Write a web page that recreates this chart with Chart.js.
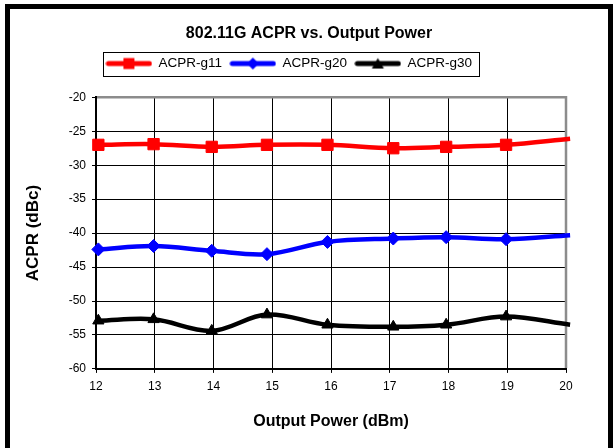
<!DOCTYPE html>
<html lang="en">
<head>
<meta charset="UTF-8">
<title>802.11G ACPR vs. Output Power</title>
<script src="https://cdn.jsdelivr.net/npm/chart.js"></script>
<style>
  body { margin: 0; background: #fff; }
  .wrap { position: relative; width: 613px; height: 448px; overflow: hidden; }
  .frame { position: absolute; left: 5px; top: 4px; width: 608px; height: 470px; border: 5px solid #000; box-sizing: border-box; }
  canvas { position: absolute; left: 0; top: 0; }
</style>
</head>
<body>
<div class="wrap">
  <div class="frame"></div>
  <canvas id="acpr" width="613" height="448"></canvas>
</div>
<script>
// measured output power (dBm) for each sample
const outputPower = [12.04, 12.98, 13.97, 14.91, 15.94, 17.06, 17.96, 18.98, 20.07];
const acprG11 = [-27.0, -26.9, -27.3, -27.0, -27.0, -27.5, -27.3, -27.0, -26.1];
const acprG20 = [-42.4, -41.9, -42.6, -43.1, -41.3, -40.8, -40.6, -40.9, -40.3];
const acprG30 = [-52.9, -52.7, -54.4, -52.0, -53.5, -53.8, -53.5, -52.3, -53.5];
const seriesNames = ['ACPR-g11', 'ACPR-g20', 'ACPR-g30'];
const xMin = 12, xMax = 20, xStep = 1;
const yMin = -60, yMax = -20, yStep = 5;

Chart.defaults.font.family = 'Arial, "Liberation Sans", sans-serif';
Chart.defaults.color = '#000';

// legend sample: thick line with the marker in the middle
function legendSample(color, style) {
  const c = document.createElement('canvas');
  c.width = 47; c.height = 14;
  const g = c.getContext('2d');
  g.strokeStyle = color; g.lineWidth = 5; g.lineCap = 'round';
  g.beginPath(); g.moveTo(3, 7); g.lineTo(44, 7); g.stroke();
  g.fillStyle = color;
  g.beginPath();
  if (style === 'rect') g.rect(18, 1.5, 11, 11);
  else if (style === 'rectRot') { g.moveTo(23.5, 1); g.lineTo(29.5, 7); g.lineTo(23.5, 13); g.lineTo(17.5, 7); g.closePath(); }
  else { g.moveTo(23.5, 1.5); g.lineTo(29.5, 12); g.lineTo(17.5, 12); g.closePath(); }
  g.fill();
  return c;
}

function series(label, values, color, style, radius) {
  return {
    label: label,
    data: values.map((y, i) => ({ x: outputPower[i], y: y })),
    borderColor: color,
    backgroundColor: color,
    borderWidth: 4.5,
    pointStyle: style,
    pointRadius: values.map((v, i) => i === values.length - 1 ? 0 : radius),
    pointBackgroundColor: color,
    pointBorderColor: color,
    pointBorderWidth: 1,
    tension: 0.35,
    clip: false,
    legendImg: legendSample(color, style)
  };
}

const plotFrame = {
  id: 'plotFrame',
  afterLayout(chart) {
    // Excel centres title/legend differently from Chart.js
    chart.titleBlock.left += 26; chart.titleBlock.right += 26;
    chart.legend.left += 6; chart.legend.right += 6;
  },
  beforeDatasetsDraw(chart) {
    const { ctx, chartArea: a } = chart;
    ctx.save();
    ctx.strokeStyle = '#8c8c8c';
    ctx.lineWidth = 2.5;
    ctx.beginPath();
    ctx.moveTo(a.left + 1, a.top);
    ctx.lineTo(a.right, a.top);
    ctx.lineTo(a.right, a.bottom - 1);
    ctx.stroke();
    ctx.restore();
  },
  afterDraw(chart) {
    const lg = chart.legend;
    const p = lg.options.labels.padding;
    const x0 = (lg.left + p + lg.right - lg.lineWidths[0]) / 2;
    const x1 = x0 + lg.lineWidths[0] - p;
    const rowTop = lg.top + p;
    const ctx = chart.ctx;
    ctx.save();
    ctx.strokeStyle = '#000';
    ctx.lineWidth = 1;
    ctx.strokeRect(Math.round(x0 - 3) + 0.5, Math.round(rowTop - 5) + 0.5,
      Math.round(x1 - x0 + 10), Math.round(lg.options.labels.font.size + 10.5));
    ctx.restore();
  }
};

new Chart(document.getElementById('acpr'), {
  type: 'line',
  data: {
    datasets: [
      series(seriesNames[0], acprG11, '#ff0000', 'rect', 8),
      series(seriesNames[1], acprG20, '#0000ff', 'rectRot', 6.5),
      series(seriesNames[2], acprG30, '#000000', 'triangle', 6.5)
    ]
  },
  options: {
    responsive: false,
    animation: false,
    layout: { padding: { top: 0, right: 47, bottom: 16.5, left: 0 } },
    plugins: {
      title: {
        display: true,
        text: '802.11G ACPR vs. Output Power',
        color: '#000',
        font: { size: 16, weight: 'bold' },
        padding: { top: 24, bottom: 5.5 }
      },
      legend: {
        labels: {
          usePointStyle: true,
          pointStyleWidth: 45.6,
          padding: 8.1,
          color: '#000',
          font: { size: 13.5 },
          generateLabels(chart) {
            const items = Chart.defaults.plugins.legend.labels.generateLabels(chart);
            items.forEach(it => { it.pointStyle = chart.data.datasets[it.datasetIndex].legendImg; });
            return items;
          }
        }
      },
      tooltip: { enabled: false }
    },
    scales: {
      x: {
        type: 'linear',
        min: xMin, max: xMax,
        ticks: { stepSize: xStep, padding: 7, font: { size: 12 }, color: '#000' },
        grid: { color: '#000', tickLength: 4, tickColor: '#000' },
        border: { color: '#000', width: 2 },
        title: {
          display: true, text: 'Output Power (dBm)', color: '#000',
          font: { size: 16, weight: 'bold' }, padding: { top: 11, bottom: 0 }
        }
      },
      // empty spacer between the legend and the plot area
      gap: {
        type: 'linear',
        position: 'top',
        grid: { display: false },
        ticks: { display: false },
        border: { display: false },
        afterFit(scale) { scale.height = 17; }
      },
      y: {
        min: yMin, max: yMax,
        ticks: { stepSize: yStep, padding: 6, font: { size: 12 }, color: '#000' },
        grid: { color: '#000', tickLength: 4, tickColor: '#000' },
        border: { color: '#000', width: 2 },
        afterFit(scale) { scale.width = 96; },
        title: {
          display: true, text: 'ACPR (dBc)', color: '#000',
          font: { size: 17, weight: 'bold' }, padding: { top: 22.8, bottom: 0 }
        }
      }
    }
  },
  plugins: [plotFrame]
});
</script>
</body>
</html>
